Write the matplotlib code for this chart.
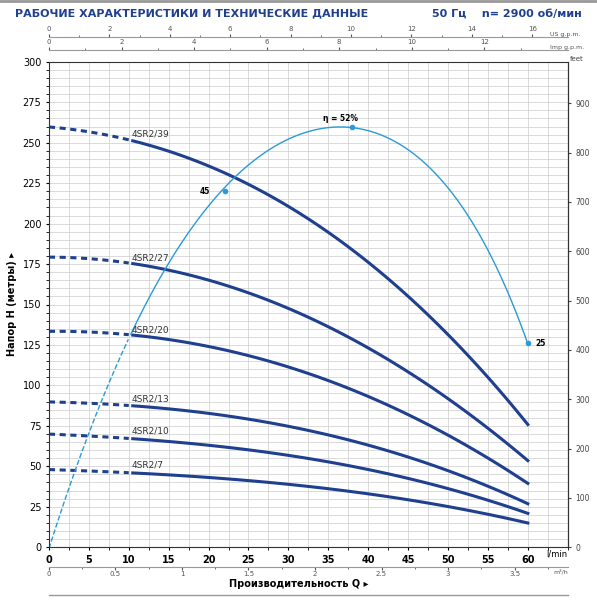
import numpy as np
import matplotlib
matplotlib.use('Agg')
import matplotlib.pyplot as plt

q = [0, 10, 20, 30, 40, 50, 60]
curves = {
    '4SR2/39': [260, 251, 236, 211, 176, 131, 76],
    '4SR2/27': [180, 174, 165, 150, 122, 91, 54],
    '4SR2/20': [134, 130, 124, 113, 93, 68, 40],
    '4SR2/13': [90, 87, 83, 75, 63, 47, 27],
    '4SR2/10': [70, 67, 63, 57, 48, 36, 21],
    '4SR2/7': [48, 46, 43, 39, 33, 25, 15],
}
eff_q = [0, 5, 10, 15, 22, 30, 38, 45, 50, 55, 60]
eff_h = [0, 68, 130, 178, 220, 252, 260, 246, 222, 183, 126]
eff_marks = [(22, 220, '45'), (38, 260, 'η = 52%'), (60, 126, '25')]

navy = '#1f3f8f'
cyan = '#2a9ad8'

fig = plt.figure(figsize=(5.97, 6), dpi=100)
ax = fig.add_axes([0.082, 0.088, 0.869, 0.809])
ax.set_xlim(0, 65)
ax.set_ylim(0, 300)
ax.set_xticks(np.arange(0, 61, 5))
ax.set_xticks(np.arange(0, 65.1, 2.5), minor=True)
ax.set_yticks(np.arange(0, 301, 25))
ax.set_yticks(np.arange(0, 301, 5), minor=True)
ax.grid(which='both', color='#cccccc', lw=0.5)
ax.tick_params(labelsize=7, length=2, which='both')
for lab in ax.get_xticklabels():
    lab.set_fontweight('bold')
for s in ax.spines.values():
    s.set_color('#333333')

for name, h in curves.items():
    qs = np.linspace(0, 60, 121)
    hs = np.polyval(np.polyfit(q, h, 3), qs)
    dash = qs <= 10
    ax.plot(qs[dash], hs[dash], color=navy, lw=2.2, ls=(0, (2, 1.5)))
    ax.plot(qs[~dash], hs[~dash], color=navy, lw=2.2)
    ax.text(10.3, h[1] + 3, name, fontsize=6.5, color='#333333')

eq = np.linspace(0, 60, 200)
eh = np.polyval(np.polyfit(eff_q, eff_h, 5), eq)
ax.plot(eq[eq <= 10], eh[eq <= 10], color=cyan, lw=1, ls='--')
ax.plot(eq[eq >= 10], eh[eq >= 10], color=cyan, lw=1)
off = {'45': (-2.5, 0), 'η = 52%': (-1.5, 5), '25': (1, 0)}
for x, y, t in eff_marks:
    ax.plot(x, y, 'o', color=cyan, ms=3)
    dx, dy = off[t]
    ax.text(x + dx, y + dy, t, fontsize=5.5, fontweight='bold',
            ha='center' if t != '25' else 'left', va='center')

# right axis in feet
ft = ax.secondary_yaxis('right', functions=(lambda m: m * 3.28084, lambda f: f / 3.28084))
ft.set_yticks(np.arange(0, 901, 100))
ft.tick_params(labelsize=5.5, length=2, colors='#444444')
ax.text(1.005, 1.0, 'feet', transform=ax.transAxes, fontsize=5, color='#444444', va='bottom')

# top and bottom flow axes
us = ax.secondary_xaxis(1.052, functions=(lambda l: l / 3.785, lambda g: g * 3.785))
us.set_xticks(np.arange(0, 17, 2))
us.set_xticks(np.arange(0, 17, 1), minor=True)
imp = ax.secondary_xaxis(1.025, functions=(lambda l: l / 4.546, lambda g: g * 4.546))
imp.set_xticks(np.arange(0, 13, 2))
imp.set_xticks(np.arange(0, 14, 1), minor=True)
m3 = ax.secondary_xaxis(-0.04, functions=(lambda l: l * 0.06, lambda m: m / 0.06))
m3.set_xticks(np.arange(0, 3.6, 0.5))
m3.set_xticks(np.arange(0, 3.9, 0.25), minor=True)
m3.set_xticklabels(['0', '0.5', '1', '1.5', '2', '2.5', '3', '3.5'])
for sa in (us, imp, m3):
    sa.tick_params(labelsize=5, length=2, pad=1, colors='#555555', which='both')
    sa.tick_params(which='minor', length=1.5)
    sa.spines['bottom' if sa is m3 else 'top'].set_color('#999999')
ax.text(0.965, 1.052, 'US g.p.m.', transform=ax.transAxes, fontsize=4.5, color='#555555', va='bottom')
ax.text(0.965, 1.025, 'Imp g.p.m.', transform=ax.transAxes, fontsize=4.5, color='#555555', va='bottom')
ax.text(1.0, -0.005, 'l/min', transform=ax.transAxes, fontsize=6, ha='right', va='top')
ax.text(1.0, -0.045, 'm³/h', transform=ax.transAxes, fontsize=4.5, ha='right', va='top', color='#555555')

ax.set_ylabel('Напор H (метры) ▸', fontsize=7, fontweight='bold', labelpad=4)
fig.text(0.5, 0.022, 'Производительность Q ▸', fontsize=7, fontweight='bold', ha='center')
fig.text(0.025, 0.978, 'РАБОЧИЕ ХАРАКТЕРИСТИКИ И ТЕХНИЧЕСКИЕ ДАННЫЕ', fontsize=8,
         fontweight='bold', color=navy, va='center')
fig.text(0.975, 0.978, '50 Гц    n= 2900 об/мин', fontsize=8, fontweight='bold',
         color=navy, va='center', ha='right')
fig.add_artist(plt.Line2D([0.0, 1.0], [0.998, 0.998], color='#999999', lw=2))
fig.add_artist(plt.Line2D([0.082, 0.951], [0.008, 0.008], color='#999999', lw=1))

fig.savefig('out.png', dpi=100)
